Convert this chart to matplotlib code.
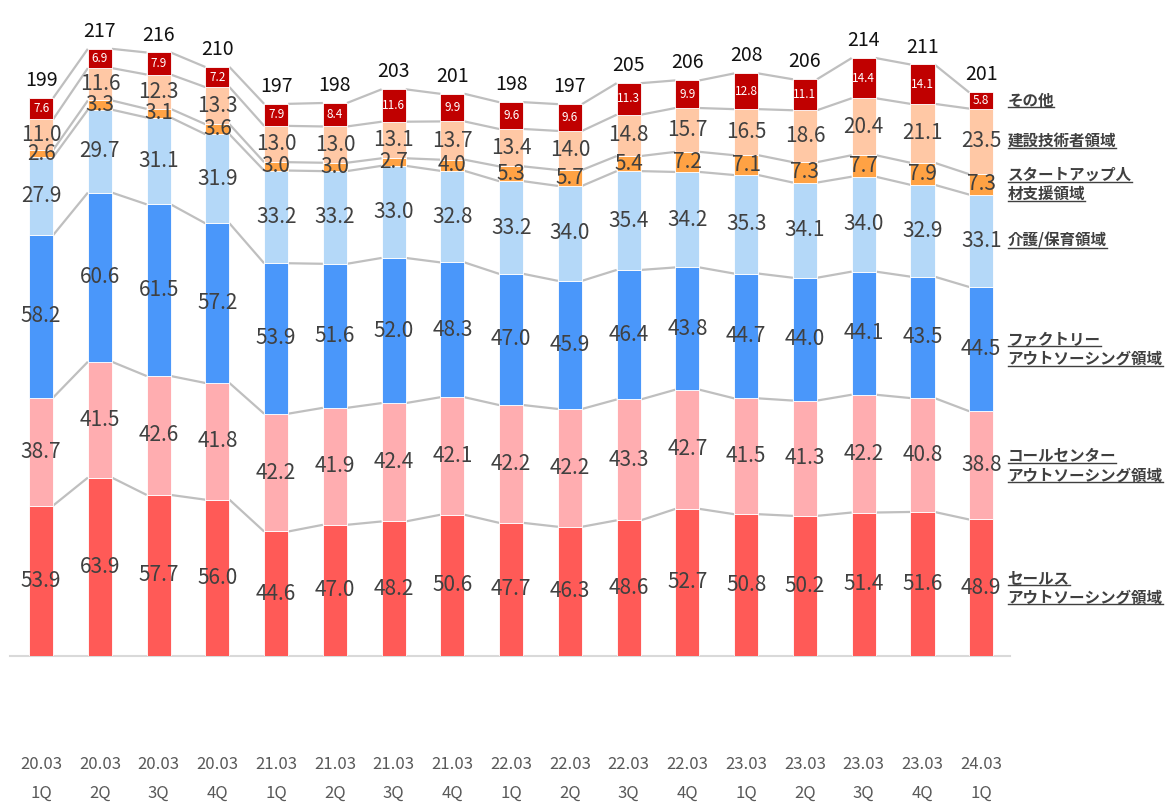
import numpy as np
import matplotlib
matplotlib.use('Agg')
import matplotlib.pyplot as plt
from matplotlib.lines import Line2D

# 日本語フォント
plt.rcParams['font.family'] = ['Noto Sans CJK JP', 'DejaVu Sans']

periods = ['20.03\n1Q', '20.03\n2Q', '20.03\n3Q', '20.03\n4Q',
           '21.03\n1Q', '21.03\n2Q', '21.03\n3Q', '21.03\n4Q',
           '22.03\n1Q', '22.03\n2Q', '22.03\n3Q', '22.03\n4Q',
           '23.03\n1Q', '23.03\n2Q', '23.03\n3Q', '23.03\n4Q',
           '24.03\n1Q']

sales = [53.9, 63.9, 57.7, 56.0, 44.6, 47.0, 48.2, 50.6, 47.7, 46.3, 48.6, 52.7, 50.8, 50.2, 51.4, 51.6, 48.9]
call_center = [38.7, 41.5, 42.6, 41.8, 42.2, 41.9, 42.4, 42.1, 42.2, 42.2, 43.3, 42.7, 41.5, 41.3, 42.2, 40.8, 38.8]
factory = [58.2, 60.6, 61.5, 57.2, 53.9, 51.6, 52.0, 48.3, 47.0, 45.9, 46.4, 43.8, 44.7, 44.0, 44.1, 43.5, 44.5]
care = [27.9, 29.7, 31.1, 31.9, 33.2, 33.2, 33.0, 32.8, 33.2, 34.0, 35.4, 34.2, 35.3, 34.1, 34.0, 32.9, 33.1]
startup = [2.6, 3.3, 3.1, 3.6, 3.0, 3.0, 2.7, 4.0, 5.3, 5.7, 5.4, 7.2, 7.1, 7.3, 7.7, 7.9, 7.3]
construction = [11.0, 11.6, 12.3, 13.3, 13.0, 13.0, 13.1, 13.7, 13.4, 14.0, 14.8, 15.7, 16.5, 18.6, 20.4, 21.1, 23.5]
other = [7.6, 6.9, 7.9, 7.2, 7.9, 8.4, 11.6, 9.9, 9.6, 9.6, 11.3, 9.9, 12.8, 11.1, 14.4, 14.1, 5.8]
totals = [199, 217, 216, 210, 197, 198, 203, 201, 198, 197, 205, 206, 208, 206, 214, 211, 201]

series_names = [['セールス', 'アウトソーシング領域'],
                ['コールセンター', 'アウトソーシング領域'],
                ['ファクトリー', 'アウトソーシング領域'],
                ['介護/保育領域'],
                ['スタートアップ人', '材支援領域'],
                ['建設技術者領域'],
                ['その他']]

series = [sales, call_center, factory, care, startup, construction, other]
colors = ['#FF5A57', '#FFADB0', '#4A97FA', '#B4D8F8', '#FFA244', '#FFC8A5', '#C00000']

fig = plt.figure(figsize=(11.7, 8.05), dpi=100)
ax = fig.add_axes([10 / 1170, 149 / 805, 1000 / 1170, 656 / 805])

x = np.arange(len(periods))
w = 0.41
bottom = np.zeros(len(periods))
tops = []
for vals, col in zip(series, colors):
    vals = np.array(vals)
    ax.bar(x, vals, w, bottom=bottom, color=col, edgecolor='white', linewidth=0.6, zorder=3)
    tops.append(bottom + vals)
    bottom = bottom + vals

# 区切り線（棒同士をつなぐ）
for t in tops:
    for i in range(len(x) - 1):
        ax.plot([x[i] + w / 2, x[i + 1] - w / 2], [t[i], t[i + 1]],
                color='#BFBFBF', lw=1.6, zorder=2, solid_capstyle='butt')

# 値ラベル
bottom = np.zeros(len(periods))
for k, vals in enumerate(series):
    vals = np.array(vals)
    for i in range(len(x)):
        yc = bottom[i] + vals[i] / 2
        if k == 6:
            ax.text(x[i], yc, f'{vals[i]:.1f}', ha='center', va='center',
                    fontsize=8.5, color='white', zorder=5)
        else:
            ax.text(x[i], yc, f'{vals[i]:.1f}', ha='center', va='center',
                    fontsize=15, color='#404040', zorder=5)
    bottom = bottom + vals

# 合計
for i in range(len(x)):
    ax.annotate(str(totals[i]), (x[i], tops[-1][i]), xytext=(0, 5),
                textcoords='offset points', ha='center', va='bottom',
                fontsize=14, color='#111111')

# 右側の系列名
name_texts = []
bottom = np.zeros(len(periods))
for vals, names in zip(series, series_names):
    yc = bottom[-1] + vals[-1] / 2
    bottom = bottom + np.array(vals)
    n = len(names)
    for j, nm in enumerate(names):
        off = (n - 1) / 2 * 14 - j * 14
        t = ax.annotate(nm, (16.45, yc), xytext=(0, off), textcoords='offset points',
                        ha='left', va='center', fontsize=11.2, fontweight='bold',
                        color='#404040', annotation_clip=False)
        name_texts.append(t)

ax.set_xlim(-0.53, 16.49)
ax.set_ylim(0, 235)
ax.set_xticks(x)
ax.set_xticklabels(periods, fontsize=12, color='#595959', linespacing=1.9)
ax.tick_params(axis='x', length=0, pad=72)
ax.set_yticks([])
for s in ['top', 'right', 'left']:
    ax.spines[s].set_visible(False)
ax.spines['bottom'].set_color('#D9D9D9')
ax.spines['bottom'].set_linewidth(1.5)
ax.patch.set_alpha(0)

# 下線
fig.canvas.draw()
renderer = fig.canvas.get_renderer()
inv = fig.transFigure.inverted()
for t in name_texts:
    bb = t.get_window_extent(renderer)
    (x0, y0), (x1, _) = inv.transform([(bb.x0, bb.y0 + 1), (bb.x1, bb.y0)])
    fig.add_artist(Line2D([x0, x1], [y0, y0], color='#404040', lw=1.0))

fig.savefig('out.png', dpi=100)
